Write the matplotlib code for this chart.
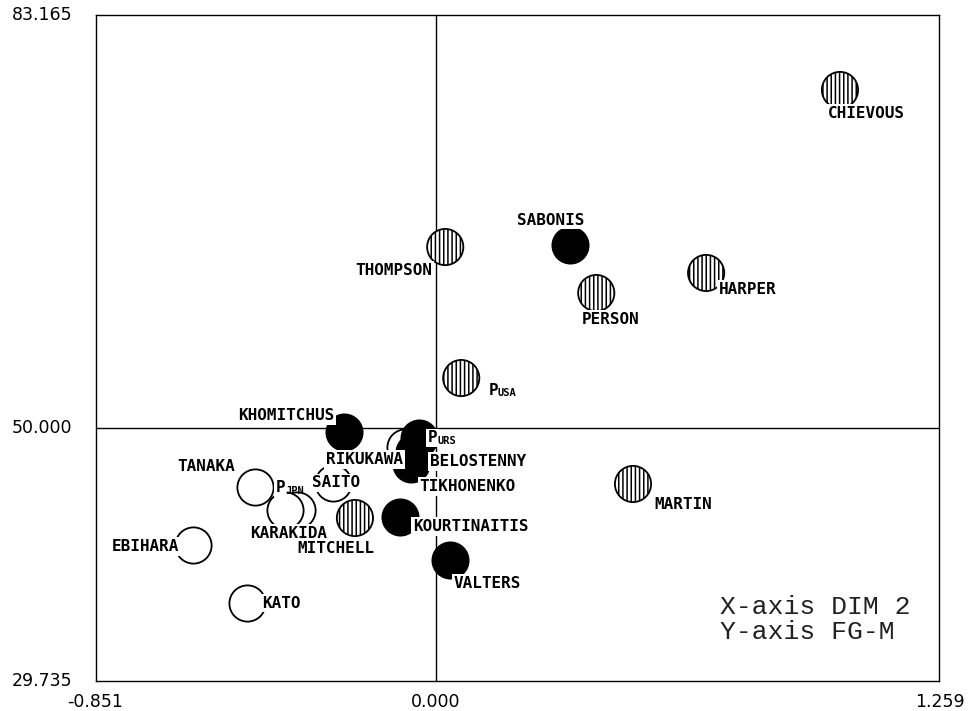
"""Correspondence map of players: DIM 2 against FG-M."""

import matplotlib
matplotlib.use("Agg")
import matplotlib.pyplot as plt
import matplotlib.transforms as mtransforms

# axis extent
x_min, x_max = -0.851, 1.259
y_min, y_max = 29.735, 83.165

# players: name, DIM 2, FG-M, team
names = [
    "CHIEVOUS", "SABONIS", "THOMPSON", "HARPER", "PERSON", "MARTIN",
    "KHOMITCHUS", "RIKUKAWA", "BELOSTENNY", "TIKHONENKO", "SAITO", "TANAKA",
    "KARAKIDA", "MITCHELL", "KOURTINAITIS", "EBIHARA", "KATO", "VALTERS",
]
dim2 = [
    1.011, 0.335, 0.023, 0.676, 0.401, 0.493,
    -0.230, -0.078, -0.055, -0.063, -0.258, -0.453,
    -0.348, -0.203, -0.090, -0.608, -0.473, 0.035,
]
fgm = [
    77.15, 64.71, 64.55, 62.47, 60.86, 45.54,
    49.71, 48.51, 48.11, 47.14, 45.62, 45.30,
    43.45, 42.81, 42.89, 40.63, 35.99, 39.44,
]
team = [
    "USA", "URS", "USA", "USA", "USA", "USA",
    "URS", "JPN", "URS", "URS", "JPN", "JPN",
    "JPN", "USA", "URS", "JPN", "JPN", "URS",
]

# team centroids
teams = ["USA", "URS", "JPN"]
team_dim2 = [0.063, -0.043, -0.378]
team_fgm = [54.04, 49.23, 43.45]

# label offsets in points from each marker
label_offsets = {
    "CHIEVOUS": (19, -17), "SABONIS": (-14, 18), "THOMPSON": (-37, -17),
    "HARPER": (30, -12), "PERSON": (10, -19), "MARTIN": (36, -15),
    "KHOMITCHUS": (-42, 12), "RIKUKAWA": (-29, -9), "BELOSTENNY": (46, -7),
    "TIKHONENKO": (41, -16), "SAITO": (2, 0), "TANAKA": (-35, 15),
    "KARAKIDA": (-6, -17), "MITCHELL": (-14, -22), "KOURTINAITIS": (51, -7),
    "EBIHARA": (-34, -1), "KATO": (25, 0), "VALTERS": (27, -17),
}
centroid_offsets = {"USA": (23, -9), "URS": (10, 0), "JPN": (-3, 16)}

styles = {
    "JPN": dict(facecolor="white", edgecolor="black", hatch=None),
    "USA": dict(facecolor="white", edgecolor="black", hatch="||||"),
    "URS": dict(facecolor="black", edgecolor="black", hatch=None),
}
zorders = {"JPN": 2, "USA": 2.2, "URS": 2.4}

plt.rcParams["hatch.linewidth"] = 1.1
label_font = dict(family=["DejaVu Sans Mono", "DejaVu Sans"], weight="bold")

fig = plt.figure(figsize=(9.69, 7.11), dpi=100)
ax = fig.add_axes([0.0991, 0.0422, 0.8700, 0.9367])
ax.set_xlim(x_min, x_max)
ax.set_ylim(y_min, y_max)
ax.set_xticks([])
ax.set_yticks([])
for spine in ax.spines.values():
    spine.set_linewidth(1.0)

ax.axvline(0.0, color="black", linewidth=1.0, zorder=1)
ax.axhline(50.0, color="black", linewidth=1.0, zorder=1)

marker_size = 680

# markers per team, open circles first so the solid ones sit on top
all_x = dim2 + team_dim2
all_y = fgm + team_fgm
all_team = team + teams
for t in ["JPN", "USA", "URS"]:
    xs = [x for x, tt in zip(all_x, all_team) if tt == t]
    ys = [y for y, tt in zip(all_y, all_team) if tt == t]
    st = styles[t]
    ax.scatter(
        xs, ys, s=marker_size, facecolor=st["facecolor"],
        edgecolor=st["edgecolor"], hatch=st["hatch"], linewidth=1.3,
        zorder=zorders[t],
    )

# player names on white boxes
for name, x, y in zip(names, dim2, fgm):
    dx, dy = label_offsets[name]
    ax.annotate(
        name, (x, y), xytext=(dx, dy), textcoords="offset points",
        ha="center", va="center", fontsize=11.5, zorder=4,
        bbox=dict(boxstyle="square,pad=0.12", facecolor="white", edgecolor="none"),
        **label_font,
    )

# team centroid labels: P with team subscript
for t, x, y in zip(teams, team_dim2, team_fgm):
    dx, dy = centroid_offsets[t]
    ax.annotate(
        "P", (x, y), xytext=(dx, dy), textcoords="offset points",
        ha="center", va="center", fontsize=11.5, zorder=4,
        bbox=dict(boxstyle="square,pad=0.1", facecolor="white", edgecolor="none"),
        **label_font,
    )
    ax.annotate(
        t, (x, y), xytext=(dx + 10, dy - 2), textcoords="offset points",
        ha="center", va="center", fontsize=7.5, zorder=4,
        **label_font,
    )

# range labels on the axes
tick_font = dict(family="DejaVu Sans", fontsize=12.5)
ytrans = mtransforms.blended_transform_factory(fig.transFigure, ax.transData)
for yv, lbl in [(y_max, "83.165"), (50.0, "50.000"), (y_min, "29.735")]:
    ax.text(12 / 969, yv, lbl, transform=ytrans, ha="left", va="center", **tick_font)
xtrans = mtransforms.blended_transform_factory(ax.transData, fig.transFigure)
ax.text(x_min - 0.003, 1 - 702 / 711, "-0.851", transform=xtrans, ha="center", va="center", **tick_font)
ax.text(0.0, 1 - 702 / 711, "0.000", transform=xtrans, ha="center", va="center", **tick_font)
ax.text(1 - 4 / 969, 1 - 702 / 711, "1.259", transform=fig.transFigure, ha="right", va="center", **tick_font)

# axis legend in the lower right corner
ax.text(
    0.74, 0.092, "X-axis DIM 2\nY-axis FG-M", transform=ax.transAxes,
    ha="left", va="center", fontsize=19, linespacing=1.05,
    family=["Liberation Mono", "DejaVu Sans Mono"], color="#222222",
)

fig.savefig("out.png", dpi=100)
